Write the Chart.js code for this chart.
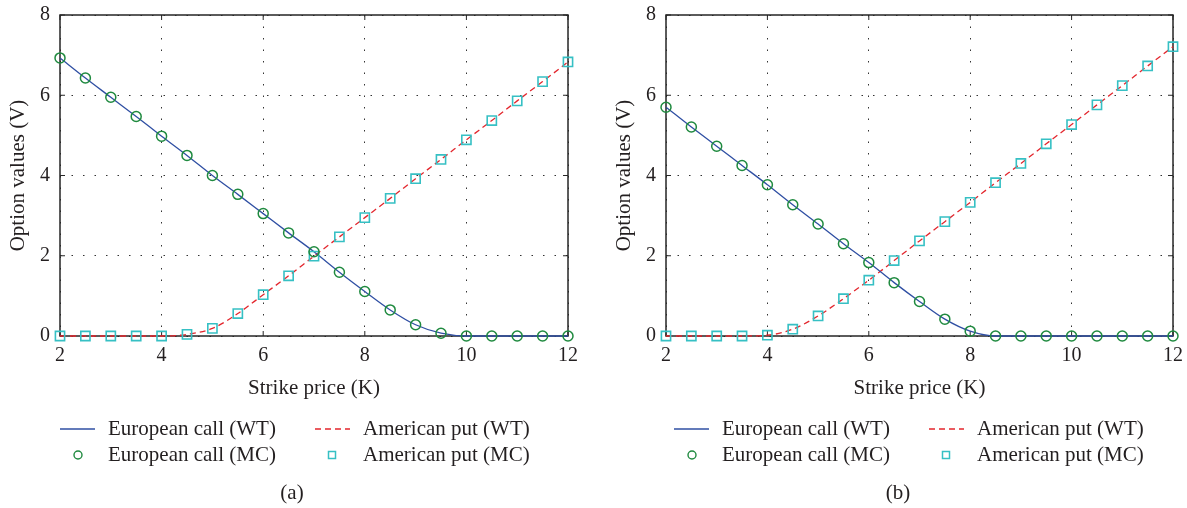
<!DOCTYPE html>
<html>
<head>
<meta charset="utf-8">
<script src="https://cdn.jsdelivr.net/npm/chart.js@4"></script>
<style>
  html, body { margin: 0; padding: 0; background: #fff; }
  body { width: 1187px; height: 508px; position: relative; overflow: hidden; }
  .panel { position: absolute; top: 0; }
  canvas { display: block; }
</style>
</head>
<body>
<div class="panel" style="left:0"><canvas id="chartA" width="590" height="508"></canvas></div>
<div class="panel" style="left:606px"><canvas id="chartB" width="581" height="508"></canvas></div>
<script>
// === DATA ===

const strikes = [2, 2.5, 3, 3.5, 4, 4.5, 5, 5.5, 6, 6.5, 7, 7.5, 8, 8.5, 9, 9.5, 10, 10.5, 11, 11.5, 12];

// panel (a)
const callA = [6.93, 6.43, 5.95, 5.47, 4.98, 4.50, 4.00, 3.53, 3.05, 2.57, 2.10, 1.59, 1.11, 0.65, 0.28, 0.07, 0, 0, 0, 0, 0];
const putA = [0, 0, 0, 0, 0, 0.04, 0.19, 0.56, 1.03, 1.50, 1.99, 2.47, 2.95, 3.43, 3.92, 4.40, 4.89, 5.37, 5.86, 6.34, 6.83];

// panel (b)
const callB = [5.70, 5.21, 4.73, 4.25, 3.77, 3.27, 2.79, 2.30, 1.83, 1.33, 0.86, 0.42, 0.12, 0, 0, 0, 0, 0, 0, 0, 0];
const putB = [0, 0, 0, 0, 0.02, 0.17, 0.50, 0.93, 1.39, 1.88, 2.37, 2.85, 3.33, 3.82, 4.30, 4.79, 5.27, 5.76, 6.24, 6.73, 7.21];

const xTicks = [2, 4, 6, 8, 10, 12];
const yTicks = [0, 2, 4, 6, 8];

const seriesLabels = ["European call (WT)", "American put (WT)", "European call (MC)", "American put (MC)"];

// === STYLE ===

const textColor = "#231f20";
const serif = "'Liberation Serif', 'DejaVu Serif', serif";
const blue = "#2f4fa3";
const red = "#e3262d";
const green = "#1f8a3f";
const cyan = "#36c0c4";

const toPoints = vals => strikes.map((k, i) => ({ x: k, y: vals[i] }));

// frame + inward tick marks, under the data
const framePlugin = {
  id: "frame",
  beforeDatasetsDraw(chart) {
    const { ctx, chartArea: a, scales } = chart;
    ctx.save();
    ctx.strokeStyle = "#262626";
    ctx.lineWidth = 1.5;
    ctx.strokeRect(a.left, a.top, a.right - a.left, a.bottom - a.top);
    ctx.lineWidth = 1;
    ctx.beginPath();
    xTicks.forEach(v => {
      const px = scales.x.getPixelForValue(v);
      ctx.moveTo(px, a.bottom); ctx.lineTo(px, a.bottom - 5);
      ctx.moveTo(px, a.top); ctx.lineTo(px, a.top + 5);
    });
    yTicks.forEach(v => {
      const py = scales.y.getPixelForValue(v);
      ctx.moveTo(a.left, py); ctx.lineTo(a.left + 5, py);
      ctx.moveTo(a.right, py); ctx.lineTo(a.right - 5, py);
    });
    ctx.stroke();
    ctx.restore();
  }
};

// 2x2 legend + caption under the x axis
const panelLegend = {
  id: "panelLegend",
  afterDraw(chart, args, opts) {
    const { ctx, chartArea: a } = chart;
    const rowY = [429, 455];
    ctx.save();
    ctx.font = "21px " + serif;
    ctx.textBaseline = "middle";
    chart.data.datasets.forEach((ds, i) => {
      const sx = a.left + opts.offset + (i % 2) * 255;
      const sy = rowY[Math.floor(i / 2)];
      ctx.save();
      if (ds.showLine) {
        ctx.strokeStyle = ds.borderColor;
        ctx.lineWidth = 1.3;
        ctx.setLineDash(ds.borderDash || []);
        ctx.beginPath();
        ctx.moveTo(sx, sy);
        ctx.lineTo(sx + 35, sy);
        ctx.stroke();
      } else if (ds.pointStyle === "circle") {
        ctx.strokeStyle = ds.pointBorderColor;
        ctx.lineWidth = 1.4;
        ctx.beginPath();
        ctx.arc(sx + 18, sy, 4, 0, Math.PI * 2);
        ctx.stroke();
      } else {
        ctx.strokeStyle = ds.pointBorderColor;
        ctx.lineWidth = 1.5;
        ctx.strokeRect(sx + 13.5, sy - 3.5, 7, 7);
      }
      ctx.restore();
      ctx.fillStyle = textColor;
      ctx.fillText(ds.label, sx + 48, sy);
    });
    ctx.fillStyle = textColor;
    ctx.textAlign = "center";
    ctx.fillText(opts.caption, a.left + 232, 493);
    ctx.restore();
  }
};

// === BUILD ===

function makePanel(id, call, put, caption, legendOffset, padRight) {
  const tickFont = { family: serif, size: 20 };
  const titleFont = { family: serif, size: 21 };
  new Chart(document.getElementById(id), {
    type: "scatter",
    data: {
      datasets: [
        {
          label: seriesLabels[0], data: toPoints(call), showLine: true,
          borderColor: blue, borderWidth: 1.3, pointRadius: 0,
          cubicInterpolationMode: "monotone", clip: false, order: 2
        },
        {
          label: seriesLabels[1], data: toPoints(put), showLine: true,
          borderColor: red, borderWidth: 1.3, borderDash: [6, 4], pointRadius: 0,
          cubicInterpolationMode: "monotone", clip: false, order: 2
        },
        {
          label: seriesLabels[2], data: toPoints(call), showLine: false,
          pointStyle: "circle", pointRadius: 5, pointBorderWidth: 1.5,
          pointBorderColor: green, pointBackgroundColor: "rgba(0,0,0,0)",
          clip: false, order: 1
        },
        {
          label: seriesLabels[3], data: toPoints(put), showLine: false,
          pointStyle: "rect", pointRadius: 6.5, pointBorderWidth: 1.6,
          pointBorderColor: cyan, pointBackgroundColor: "rgba(0,0,0,0)",
          clip: false, order: 1
        }
      ]
    },
    options: {
      responsive: false,
      animation: false,
      events: [],
      layout: { padding: { left: 0, right: padRight, top: 15, bottom: 107 } },
      plugins: {
        legend: { display: false },
        tooltip: { enabled: false },
        panelLegend: { caption: caption, offset: legendOffset }
      },
      scales: {
        x: {
          type: "linear", min: 2, max: 12,
          ticks: { stepSize: 2, font: tickFont, color: textColor, padding: 8, maxRotation: 0 },
          grid: { color: "#333", lineWidth: 1, drawTicks: false },
          border: { display: false, dash: [1.5, 10] },
          title: { display: true, text: "Strike price (K)", font: titleFont, color: textColor, padding: 0 },
          afterFit(s) { s.height = 65; s.paddingLeft = 0; s.paddingRight = 0; }
        },
        y: {
          type: "linear", min: 0, max: 8,
          ticks: { stepSize: 2, font: tickFont, color: textColor, padding: 10 },
          grid: { color: "#333", lineWidth: 1, drawTicks: false },
          border: { display: false, dash: [1.5, 10] },
          title: { display: true, text: "Option values (V)", font: titleFont, color: textColor, padding: { top: 5.5, bottom: 0 } },
          afterFit(s) { s.width = 60; s.paddingTop = 0; s.paddingBottom = 0; }
        }
      }
    },
    plugins: [framePlugin, panelLegend]
  });
}

makePanel("chartA", callA, putA, "(a)", 0, 22);
makePanel("chartB", callB, putB, "(b)", 8, 14);
</script>
</body>
</html>
